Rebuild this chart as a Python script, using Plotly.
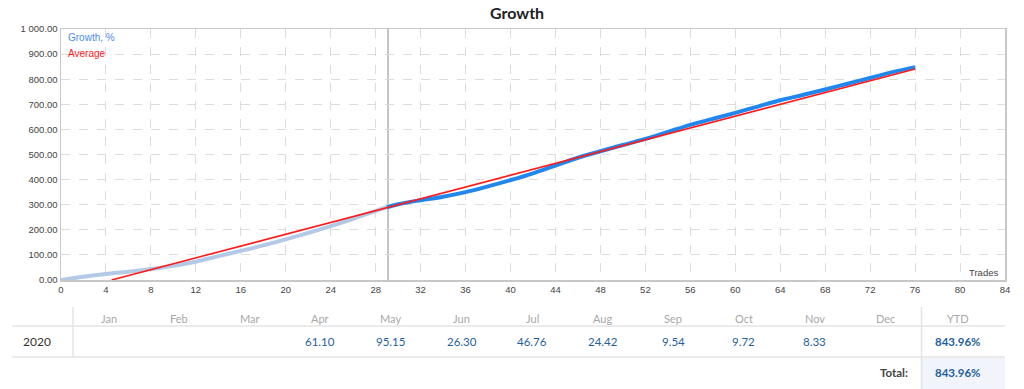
import plotly.graph_objects as go

# ---------------- data ----------------
trades = [0, 2, 4, 6, 8, 10, 12, 14, 16, 18, 20, 22, 24, 26, 28, 29,
          30, 32, 34, 36, 38, 40, 42, 44, 46, 48, 50, 52, 54, 56, 58, 60,
          62, 64, 66, 68, 70, 72, 74, 76]
growth = [0, 13, 24, 33, 44, 57, 73, 95, 116, 138, 162, 188, 215, 244, 275, 290,
          302, 318, 332, 350, 373, 398, 425, 456, 487, 513, 538, 562, 590, 618, 642, 666,
          691, 716, 737, 759, 782, 805, 828, 848]
split_trade = 29.1  # marker line position (history / recent split)
avg_x = [4.5, 76]
avg_y = [0, 841]

months = ["Jan", "Feb", "Mar", "Apr", "May", "Jun", "Jul", "Aug", "Sep", "Oct", "Nov", "Dec"]
month_vals = ["", "", "", "61.10", "95.15", "26.30", "46.76", "24.42", "9.54", "9.72", "8.33", ""]
year_label = "2020"
ytd = "843.96%"
total = "843.96%"

x_ticks = list(range(0, 85, 4))
y_ticks = [0, 100, 200, 300, 400, 500, 600, 700, 800, 900, 1000]
y_tick_text = ["0.00", "100.00", "200.00", "300.00", "400.00", "500.00",
               "600.00", "700.00", "800.00", "900.00", "1 000.00"]

# ---------------- layout helpers ----------------
W, H = 1024, 389
# plot area in screen pixels
L, R, T, B = 61, 1005, 29, 280


def px(x):
    return (x - L) / (R - L)


def py(y):
    return (B - y) / (B - T)


hist_x = [t for t in trades if t <= split_trade]
hist_y = growth[:len(hist_x)]
rec_x = [hist_x[-1]] + [t for t in trades if t > split_trade]
rec_y = [hist_y[-1]] + growth[len(hist_x):]

fig = go.Figure()
fig.add_trace(go.Scatter(x=hist_x, y=hist_y, mode="lines",
                         line=dict(color="#b3c9e6", width=4, shape="spline"),
                         hoverinfo="skip", showlegend=False))
fig.add_trace(go.Scatter(x=rec_x, y=rec_y, mode="lines",
                         line=dict(color="#1f87ee", width=4, shape="spline"),
                         hoverinfo="skip", showlegend=False))
fig.add_trace(go.Scatter(x=avg_x, y=avg_y, mode="lines",
                         line=dict(color="#ff1a1a", width=1.6),
                         hoverinfo="skip", showlegend=False))

shapes = []
shapes.append(dict(type="line", xref="x", yref="paper", x0=split_trade, x1=split_trade,
                   y0=0, y1=1, line=dict(color="#b0b0b0", width=1.5), layer="below"))

line_col = "#e4e4e4"
shapes.append(dict(type="rect", xref="paper", yref="paper", x0=px(921), x1=px(1005),
                   y0=py(389), y1=py(357), fillcolor="#f1f4fb", line=dict(width=0)))
shapes.append(dict(type="line", xref="paper", yref="paper", x0=px(12), x1=px(1005),
                   y0=py(326), y1=py(326), line=dict(color=line_col, width=1.5)))
shapes.append(dict(type="line", xref="paper", yref="paper", x0=px(12), x1=px(1005),
                   y0=py(357), y1=py(357), line=dict(color=line_col, width=1.5)))
shapes.append(dict(type="line", xref="paper", yref="paper", x0=px(73), x1=px(73),
                   y0=py(307), y1=py(357), line=dict(color=line_col, width=1.5)))
shapes.append(dict(type="line", xref="paper", yref="paper", x0=px(921.5), x1=px(921.5),
                   y0=py(307), y1=py(389), line=dict(color=line_col, width=1.5)))

ann = []
ann.append(dict(text="<b>Growth</b>", x=px(517), y=py(12), xref="paper", yref="paper",
                showarrow=False, xanchor="center", yanchor="middle",
                font=dict(family="Lato", size=16, color="#222")))
ann.append(dict(text="Growth, %", x=px(66), y=py(38), xref="paper", yref="paper",
                showarrow=False, xanchor="left", yanchor="middle",
                font=dict(family="Liberation Sans", size=10, color="#4a8ee6")))
ann.append(dict(text="Average", x=px(66), y=py(53), xref="paper", yref="paper",
                showarrow=False, xanchor="left", yanchor="middle",
                font=dict(family="Liberation Sans", size=10, color="#ff1a1a")))
ann.append(dict(text="Trades", x=px(1000), y=py(272), xref="paper", yref="paper",
                showarrow=False, xanchor="right", yanchor="middle",
                font=dict(family="Liberation Sans", size=9.5, color="#444")))

col_x0, col_dx = 108.5, 70.6
for i, m in enumerate(months):
    cx = col_x0 + i * col_dx
    ann.append(dict(text=m, x=px(cx), y=py(318), xref="paper", yref="paper",
                    showarrow=False, xanchor="center", yanchor="middle",
                    font=dict(family="Lato", size=11, color="#a8a8a8")))
    if month_vals[i]:
        ann.append(dict(text=month_vals[i], x=px(cx), y=py(341), xref="paper", yref="paper",
                        showarrow=False, xanchor="center", yanchor="middle",
                        font=dict(family="Lato", size=11.5, color="#1f5f9e")))
ann.append(dict(text="YTD", x=px(958), y=py(318), xref="paper", yref="paper",
                showarrow=False, xanchor="center", yanchor="middle",
                font=dict(family="Lato", size=11, color="#a8a8a8")))
ann.append(dict(text=year_label, x=px(37), y=py(341), xref="paper", yref="paper",
                showarrow=False, xanchor="center", yanchor="middle",
                font=dict(family="Lato", size=12, color="#333")))
ann.append(dict(text="<b>" + ytd + "</b>", x=px(958), y=py(341), xref="paper", yref="paper",
                showarrow=False, xanchor="center", yanchor="middle",
                font=dict(family="Lato", size=11.5, color="#1f5f9e")))
ann.append(dict(text="<b>Total:</b>", x=px(910), y=py(372), xref="paper", yref="paper",
                showarrow=False, xanchor="right", yanchor="middle",
                font=dict(family="Lato", size=11.5, color="#444")))
ann.append(dict(text="<b>" + total + "</b>", x=px(958), y=py(372), xref="paper", yref="paper",
                showarrow=False, xanchor="center", yanchor="middle",
                font=dict(family="Lato", size=11.5, color="#1f5f9e")))

tick_font = dict(family="Liberation Sans", size=9.5, color="#444")
fig.update_layout(
    width=W, height=H,
    margin=dict(l=L, r=W - R, t=T, b=H - B),
    paper_bgcolor="white", plot_bgcolor="white",
    showlegend=False, hovermode=False,
    shapes=shapes, annotations=ann,
    xaxis=dict(range=[0, 84], tickmode="array", tickvals=x_ticks, showgrid=True,
               gridcolor="#dcdcdc", griddash="dash", gridwidth=1,
               showline=True, linecolor="#c8c8c8", linewidth=1.5, mirror=True,
               zeroline=False, ticks="", tickfont=tick_font, fixedrange=True),
    yaxis=dict(range=[0, 1000], tickmode="array", tickvals=y_ticks, ticktext=y_tick_text,
               showgrid=True, gridcolor="#dcdcdc", griddash="dash", gridwidth=1,
               showline=True, linecolor="#c8c8c8", linewidth=1.5, mirror=True,
               zeroline=False, ticks="", tickfont=tick_font, fixedrange=True),
)

fig.write_html("out.html",
               config={"displayModeBar": False, "staticPlot": True},
               post_script="document.body.style.margin='0';document.body.style.overflow='hidden';")
